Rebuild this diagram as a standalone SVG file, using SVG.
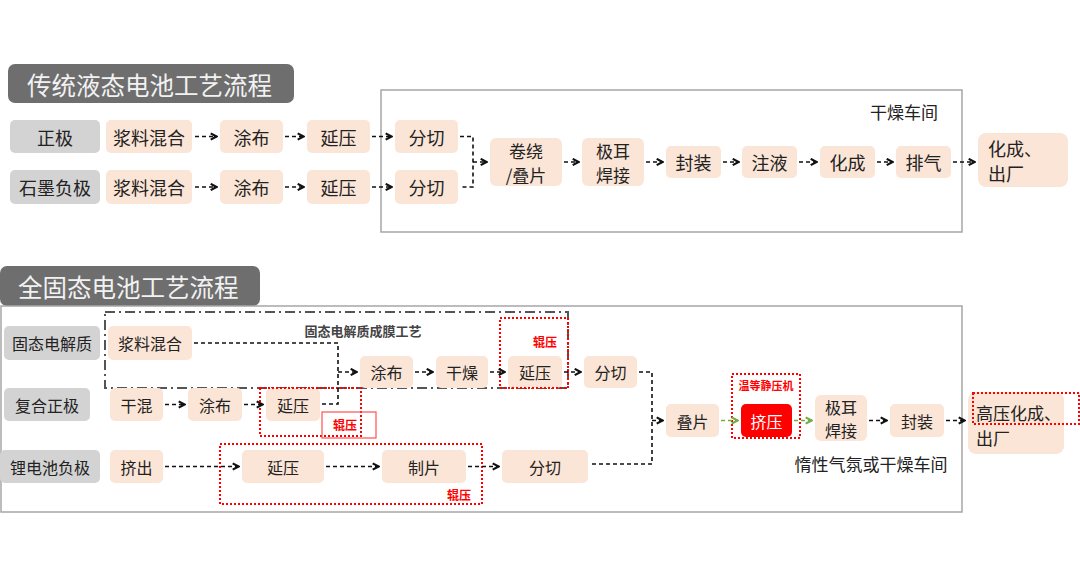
<svg xmlns="http://www.w3.org/2000/svg" width="1080" height="582" viewBox="0 0 1080 582">
<defs>
<marker id="ak" viewBox="0 0 10 10" refX="9" refY="5" markerWidth="9" markerHeight="9" orient="auto" markerUnits="userSpaceOnUse"><path d="M2,1.5 L8.5,5 L2,8.5" fill="none" stroke="#111" stroke-width="2.4"/></marker>
<marker id="ag" viewBox="0 0 10 10" refX="9" refY="5" markerWidth="9" markerHeight="9" orient="auto" markerUnits="userSpaceOnUse"><path d="M2,1.5 L8.5,5 L2,8.5" fill="none" stroke="#70ad47" stroke-width="2.4"/></marker>
</defs>
<style>
text{font-family:"Noto Sans CJK SC","Noto Sans",sans-serif;}
.n{fill:#fbe5d6;}
.l{fill:#d3d3d3;}
.t{font-size:18px;fill:#222;text-anchor:middle;dominant-baseline:central;}
.t2{font-size:17px;fill:#222;text-anchor:middle;dominant-baseline:central;}
.ts{font-size:16px;fill:#222;text-anchor:middle;dominant-baseline:central;}
.h{fill:#6e6e6e;}
.ht{font-size:24.5px;fill:#f2f2f2;dominant-baseline:central;}
.c{fill:none;stroke:#111;stroke-width:1.6;stroke-dasharray:4 3;}
.ca{fill:none;stroke:#111;stroke-width:1.6;stroke-dasharray:4 3;marker-end:url(#ak);}
.cg{fill:none;stroke:#70ad47;stroke-width:1.6;stroke-dasharray:4 3;marker-end:url(#ag);}
.rd{fill:none;stroke:#ff0000;stroke-width:2;stroke-dasharray:2 2;}
.rt{font-size:12px;font-weight:bold;fill:#ff0000;text-anchor:middle;dominant-baseline:central;}
</style>
<rect width="1080" height="582" fill="#fff"/>

<!-- Top section -->
<g id="title1"><rect class="h" x="8" y="64" width="286" height="39" rx="7"/><text class="ht" x="27" y="84">传统液态电池工艺流程</text></g>
<g id="dryroom1"><rect x="381" y="90" width="581" height="142" fill="none" stroke="#a6a6a6" stroke-width="1.5"/><text x="904" y="111" font-size="17" fill="#222" text-anchor="middle" dominant-baseline="central">干燥车间</text></g>

<g id="l-pos"><rect class="l" x="10" y="120" width="90" height="33" rx="5"/><text class="t" x="55" y="136.5">正极</text></g>
<g id="l-neg"><rect class="l" x="10" y="170" width="90" height="34" rx="5"/><text class="t" x="55" y="187">石墨负极</text></g>

<g id="p1"><rect class="n" x="106" y="120" width="86" height="33" rx="5"/><text class="t" x="149" y="136.5">浆料混合</text></g>
<g id="p2"><rect class="n" x="220" y="120" width="63" height="33" rx="5"/><text class="t" x="251.5" y="136.5">涂布</text></g>
<g id="p3"><rect class="n" x="307" y="120" width="63" height="33" rx="5"/><text class="t" x="338.5" y="136.5">延压</text></g>
<g id="p4"><rect class="n" x="395" y="120" width="63" height="33" rx="5"/><text class="t" x="426.5" y="136.5">分切</text></g>

<g id="g1"><rect class="n" x="106" y="170" width="86" height="34" rx="5"/><text class="t" x="149" y="187">浆料混合</text></g>
<g id="g2"><rect class="n" x="220" y="170" width="63" height="34" rx="5"/><text class="t" x="251.5" y="187">涂布</text></g>
<g id="g3"><rect class="n" x="307" y="170" width="63" height="34" rx="5"/><text class="t" x="338.5" y="187">延压</text></g>
<g id="g4"><rect class="n" x="395" y="170" width="63" height="34" rx="5"/><text class="t" x="426.5" y="187">分切</text></g>

<g id="wind"><rect class="n" x="490" y="138" width="72" height="48" rx="6"/><text class="t2" x="526" y="150">卷绕</text><text class="t2" x="526" y="174">/叠片</text></g>
<g id="tab"><rect class="n" x="582" y="138" width="62" height="48" rx="6"/><text class="t2" x="613" y="150">极耳</text><text class="t2" x="613" y="174">焊接</text></g>
<g id="seal"><rect class="n" x="666" y="146" width="55" height="32" rx="5"/><text class="t" x="693.5" y="162">封装</text></g>
<g id="fill"><rect class="n" x="742" y="146" width="55" height="32" rx="5"/><text class="t" x="769.5" y="162">注液</text></g>
<g id="form"><rect class="n" x="820" y="146" width="55" height="32" rx="5"/><text class="t" x="847.5" y="162">化成</text></g>
<g id="vent"><rect class="n" x="896" y="146" width="55" height="32" rx="5"/><text class="t" x="923.5" y="162">排气</text></g>
<g id="out1"><rect class="n" x="978" y="133" width="90" height="54" rx="8"/><text x="988" y="148" font-size="18" fill="#222" dominant-baseline="central">化成、</text><text x="988" y="173" font-size="18" fill="#222" dominant-baseline="central">出厂</text></g>

<g id="connectors-top">
<path class="ca" d="M195,136.5 H217"/>
<path class="ca" d="M285,136.5 H304"/>
<path class="ca" d="M372,136.5 H392"/>
<path class="ca" d="M195,187 H217"/>
<path class="ca" d="M285,187 H304"/>
<path class="ca" d="M372,187 H392"/>
<path class="c" d="M460,136.5 H473 V187 H460"/>
<path class="ca" d="M473,162 H487"/>
<path class="ca" d="M564,162 H579"/>
<path class="ca" d="M646,162 H663"/>
<path class="ca" d="M723,162 H739"/>
<path class="ca" d="M799,162 H817"/>
<path class="ca" d="M877,162 H893"/>
<path class="ca" d="M953,162 H975"/>
</g>

<!-- Bottom section -->
<g id="title2"><rect class="h" x="0" y="266" width="260" height="40" rx="7"/><text class="ht" x="18" y="286">全固态电池工艺流程</text></g>
<g id="dryroom2"><rect x="1" y="306" width="961" height="206" fill="none" stroke="#a6a6a6" stroke-width="1.5"/><text x="871" y="463" font-size="17" fill="#222" text-anchor="middle" dominant-baseline="central">惰性气氛或干燥车间</text></g>
<g id="film"><rect x="105" y="312" width="463" height="76" fill="none" stroke="#555" stroke-width="2" stroke-dasharray="10 4 2 4"/><text x="363" y="330" font-size="13" font-weight="bold" fill="#444" text-anchor="middle" dominant-baseline="central">固态电解质成膜工艺</text></g>

<g id="l-se"><rect class="l" x="4" y="326" width="96" height="34" rx="5"/><text class="ts" x="52" y="343">固态电解质</text></g>
<g id="l-cc"><rect class="l" x="4" y="388" width="86" height="33" rx="5"/><text class="ts" x="47" y="404.5">复合正极</text></g>
<g id="l-li"><rect class="l" x="0" y="450" width="100" height="33" rx="5"/><text class="ts" x="50" y="466.5">锂电池负极</text></g>

<g id="s1"><rect class="n" x="108" y="326" width="84" height="34" rx="5"/><text class="ts" x="150" y="343">浆料混合</text></g>
<g id="s2"><rect class="n" x="360" y="356" width="53" height="32" rx="5"/><text class="ts" x="386.5" y="372">涂布</text></g>
<g id="s3"><rect class="n" x="436" y="356" width="52" height="32" rx="5"/><text class="ts" x="462" y="372">干燥</text></g>
<g id="s4"><rect class="n" x="508" y="356" width="54" height="32" rx="5"/><text class="ts" x="535" y="372">延压</text></g>
<g id="s5"><rect class="n" x="584" y="356" width="53" height="32" rx="5"/><text class="ts" x="610.5" y="372">分切</text></g>
<g id="roll1"><rect class="rd" x="500" y="318" width="68" height="70"/><text class="rt" x="545" y="341">辊压</text></g>

<g id="c1"><rect class="n" x="110" y="388" width="53" height="33" rx="5"/><text class="ts" x="136.5" y="404.5">干混</text></g>
<g id="c2"><rect class="n" x="188" y="388" width="54" height="33" rx="5"/><text class="ts" x="215" y="404.5">涂布</text></g>
<g id="c3"><rect class="n" x="266" y="388" width="54" height="33" rx="5"/><text class="ts" x="293" y="404.5">延压</text></g>
<g id="roll2"><rect class="rd" x="260" y="388" width="101" height="48"/><rect x="322" y="412" width="54" height="26" fill="none" stroke="#ff5050" stroke-width="1.2"/><text class="rt" x="345" y="424">辊压</text></g>

<g id="a1"><rect class="n" x="110" y="450" width="53" height="33" rx="5"/><text class="ts" x="136.5" y="466.5">挤出</text></g>
<g id="a2"><rect class="n" x="242" y="450" width="82" height="33" rx="5"/><text class="ts" x="283" y="466.5">延压</text></g>
<g id="a3"><rect class="n" x="382" y="450" width="84" height="33" rx="5"/><text class="ts" x="424" y="466.5">制片</text></g>
<g id="a4"><rect class="n" x="502" y="450" width="86" height="33" rx="5"/><text class="ts" x="545" y="466.5">分切</text></g>
<g id="roll3"><rect class="rd" x="220" y="444" width="262" height="60"/><text class="rt" x="459" y="494">辊压</text></g>

<g id="stack"><rect class="n" x="666" y="404" width="53" height="33" rx="5"/><text class="ts" x="692.5" y="420.5">叠片</text></g>
<g id="wip"><rect class="rd" x="732" y="374" width="68" height="64"/><text x="766" y="385" font-size="11" font-weight="bold" fill="#ff0000" text-anchor="middle" dominant-baseline="central">温等静压机</text></g>
<g id="press"><rect x="741" y="404" width="51" height="33" rx="5" fill="#ff0000"/><text class="ts" x="766.5" y="420.5" style="fill:#fff">挤压</text></g>
<g id="tab2"><rect class="n" x="815" y="395" width="52" height="46" rx="6"/><text class="ts" x="841" y="406.5">极耳</text><text class="ts" x="841" y="429.5">焊接</text></g>
<g id="seal2"><rect class="n" x="890" y="404" width="54" height="33" rx="5"/><text class="ts" x="917" y="420.5">封装</text></g>
<g id="out2"><rect class="n" x="968" y="392" width="96" height="62" rx="8"/><text x="976" y="412" font-size="17" fill="#222" dominant-baseline="central">高压化成、</text><text x="976" y="437" font-size="17" fill="#222" dominant-baseline="central">出厂</text><rect class="rd" x="973" y="393" width="106" height="31"/></g>

<g id="connectors-bottom">
<path class="c" d="M194,343 H338 V404 H322"/>
<path class="ca" d="M338,372 H357"/>
<path class="ca" d="M415,372 H433"/>
<path class="ca" d="M490,372 H505"/>
<path class="ca" d="M564,372 H581"/>
<path class="ca" d="M165,404.5 H185"/>
<path class="ca" d="M244,404.5 H263"/>
<path class="ca" d="M165,466.5 H239"/>
<path class="ca" d="M326,466.5 H379"/>
<path class="ca" d="M468,466.5 H499"/>
<path class="c" d="M639,372 H652 V464 H590"/>
<path class="ca" d="M652,420.5 H663"/>
<path class="cg" d="M721,420.5 H738"/>
<path class="cg" d="M794,420.5 H812"/>
<path class="ca" d="M869,420.5 H887"/>
<path class="ca" d="M946,420.5 H965"/>
</g>
</svg>
